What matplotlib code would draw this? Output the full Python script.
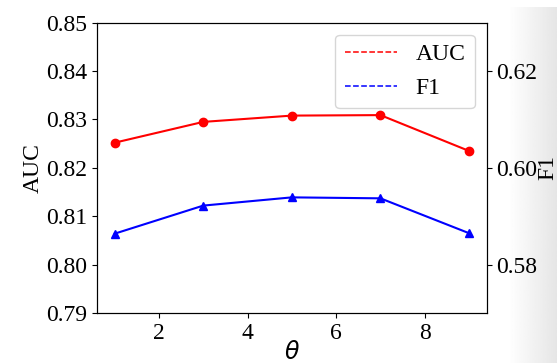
import numpy as np
from matplotlib import pyplot as plt
from matplotlib.lines import Line2D

plt.rcParams["font.family"] = ["Liberation Serif", "DejaVu Serif"]
plt.rcParams["font.size"] = 17

theta = [1, 3, 5, 7, 9]
auc = [0.8252, 0.8295, 0.8308, 0.8309, 0.8235]
f1 = [0.5864, 0.5922, 0.5939, 0.5937, 0.5865]

fig = plt.figure(figsize=(5.57, 3.63), dpi=100)

# grey screenshot edge on the right
bg = fig.add_axes([508 / 557, 0, 49 / 557, 356 / 363], zorder=-10)
grad = np.linspace(1.0, 0.9, 64).reshape(1, -1)
bg.imshow(grad, cmap="gray", vmin=0, vmax=1, aspect="auto")
bg.axis("off")

ax1 = fig.add_axes([97 / 557, 50 / 363, 389.7 / 557, 290.3 / 363])
ax1.plot(theta, auc, "r-", marker="o", markersize=6, linewidth=1.5)
ax1.set_ylim(0.79, 0.85)
ax1.set_yticks([0.79, 0.80, 0.81, 0.82, 0.83, 0.84, 0.85])
ax1.set_ylabel("AUC", labelpad=2)
ax1.set_xlabel(r"$\theta$", labelpad=-2)
ax1.set_xticks([2, 4, 6, 8])

ax2 = ax1.twinx()
ax2.plot(theta, f1, "b-", marker="^", markersize=6, linewidth=1.5)
ax2.set_ylim(0.57, 0.63)
ax2.set_yticks([0.58, 0.60, 0.62])
ax2.set_ylabel("F1", labelpad=0)

handles = [Line2D([], [], color="r", linestyle="--", linewidth=1.1),
           Line2D([], [], color="b", linestyle="--", linewidth=1.1)]
ax1.legend(handles, ["AUC", "F1"], loc="upper right", handlelength=2.2)

plt.savefig("out.png")
plt.close()
